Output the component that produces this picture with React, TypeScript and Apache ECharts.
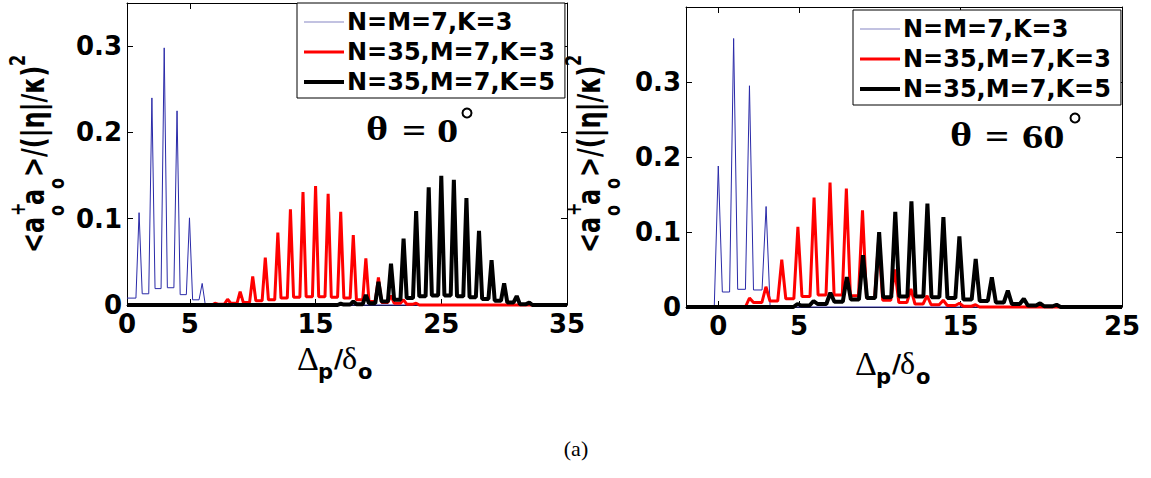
import React, { useEffect, useRef } from "react";
import * as echarts from "echarts";

const SERIES_NAMES = ["N=M=7,K=3", "N=35,M=7,K=3", "N=35,M=7,K=5"];
const xTicksLeft = [0, 5, 15, 25, 35];
const xTicksRight = [0, 5, 15, 25];
const yTicks = [0, 0.1, 0.2, 0.3];

// Panel θ = 0° : peak positions, peak heights, floor level before / between / after peaks
const blue0X = [0.96, 1.98, 2.96, 3.98, 4.97, 5.98];
const blue0Y = [0.107, 0.24, 0.298, 0.225, 0.101, 0.025];
const blue0Floor = [0.008, 0.013, 0.019, 0.02, 0.012, 0.006, 0];

const red0X = [7, 8, 9, 10, 11, 12, 13, 14, 15, 16, 17, 18, 19, 20, 21, 22, 23];
const red0Y = [0.002, 0.0066, 0.0155, 0.033, 0.055, 0.084, 0.111, 0.131, 0.138, 0.129, 0.108, 0.081, 0.054, 0.032, 0.011, 0.006, 0.002];
const red0Floor = [0, 0.001, 0.002, 0.003, 0.005, 0.006, 0.008, 0.009, 0.0095, 0.0095, 0.009, 0.008, 0.006, 0.004, 0.003, 0.002, 0.001, 0];

const black0X = [17, 18, 19, 20, 21, 22, 23, 24, 25, 26, 27, 28, 29, 30, 31, 32];
const black0Y = [0.0015, 0.004, 0.0116, 0.027, 0.048, 0.077, 0.109, 0.1365, 0.1497, 0.145, 0.124, 0.086, 0.052, 0.025, 0.0104, 0.0027];
const black0Floor = [0, 0.0005, 0.001, 0.002, 0.004, 0.006, 0.008, 0.01, 0.011, 0.011, 0.01, 0.009, 0.007, 0.005, 0.003, 0.001, 0];

// Panel θ = 60°
const blue60X = [0, 0.95, 1.93, 2.96];
const blue60Y = [0.188, 0.358, 0.295, 0.134];
const blue60Floor = [0, 0.02, 0.0236, 0.0227, 0];

const red60X = [1.93, 2.95, 3.93, 4.93, 5.93, 6.92, 7.93, 8.93, 9.93, 10.93, 11.93, 12.93, 13.93, 14.93, 15.93];
const red60Y = [0.012, 0.027, 0.063, 0.107, 0.146, 0.166, 0.158, 0.129, 0.09, 0.05, 0.024, 0.015, 0.009, 0.005, 0.003];
const red60Floor = [0, 0.006, 0.008, 0.011, 0.014, 0.016, 0.016, 0.015, 0.012, 0.009, 0.006, 0.004, 0.003, 0.002, 0.001, 0];

const black60X = [4.9, 5.9, 6.94, 7.96, 8.96, 9.96, 10.96, 11.96, 12.95, 13.94, 14.93, 15.94, 16.94, 17.93, 18.92, 19.93, 20.95];
const black60Y = [0.004, 0.008, 0.019, 0.04, 0.069, 0.1, 0.127, 0.141, 0.138, 0.12, 0.094, 0.064, 0.0396, 0.0218, 0.011, 0.005, 0.003];
const black60Floor = [0, 0.002, 0.004, 0.007, 0.01, 0.012, 0.013, 0.014, 0.014, 0.013, 0.012, 0.01, 0.008, 0.006, 0.004, 0.002, 0.001, 0];

const SANS = '"DejaVu Sans", sans-serif';
const SERIF = '"Liberation Serif", serif';
const COLORS = ["#2a2aa8", "#ff0000", "#000000"];
const LEGEND_COLORS = ["#8585c4", "#ff0000", "#000000"];
const WIDTHS = [1, 3, 4];
const FOOT = 0.25; // half-width of a spike's base, in axis units (drawing style)

// Each peak is drawn as a spike rising from the floor on its left to its height and back to the floor on its right.
function spikes(xs: number[], ys: number[], floors: number[], xmin: number, xmax: number) {
  const pts: number[][] = [[xmin, floors[0]]];
  xs.forEach((x, i) => {
    pts.push([x - FOOT, floors[i]], [x, ys[i]], [x + FOOT, floors[i + 1]]);
  });
  pts.push([xmax, floors[floors.length - 1]]);
  return pts;
}

function xAxesFor(gi: number, min: number, max: number, ticks: number[]) {
  const base = {
    type: "value",
    gridIndex: gi,
    min,
    max,
    splitLine: { show: false },
    axisLine: { show: true, onZero: false, lineStyle: { color: "#000", width: 1 } },
    axisTick: { show: true, inside: true, length: 6, customValues: ticks, lineStyle: { color: "#000" } },
  };
  return [
    {
      ...base,
      position: "bottom",
      axisLabel: {
        show: true, customValues: ticks, formatter: (v: number) => String(v),
        color: "#000", fontFamily: SANS, fontWeight: "bold", fontSize: 26, margin: 6,
      },
    },
    { ...base, position: "top", axisLabel: { show: false } },
  ];
}

function yAxesFor(gi: number, max: number) {
  const base = {
    type: "value",
    gridIndex: gi,
    min: 0,
    max,
    splitLine: { show: false },
    axisLine: { show: true, onZero: false, lineStyle: { color: "#000", width: 1 } },
    axisTick: { show: true, inside: true, length: 6, customValues: yTicks, lineStyle: { color: "#000" } },
  };
  return [
    {
      ...base,
      position: "left",
      axisLabel: {
        show: true, customValues: yTicks, formatter: (v: number) => String(v),
        color: "#000", fontFamily: SANS, fontWeight: "bold", fontSize: 26, margin: 5,
      },
    },
    { ...base, position: "right", axisLabel: { show: false } },
  ];
}

function lineSeries(idx: number, data: number[][], axisIdx: number) {
  return {
    type: "line",
    name: SERIES_NAMES[idx],
    data,
    xAxisIndex: axisIdx,
    yAxisIndex: axisIdx,
    showSymbol: false,
    symbol: "none",
    clip: false,
    silent: true,
    lineStyle: { color: COLORS[idx], width: WIDTHS[idx], join: "bevel" },
    itemStyle: { color: COLORS[idx] },
  };
}

function t(x: number, y: number, text: string, font: string, extra: any = {}) {
  return {
    type: "text", x, y, ...extra,
    style: { text, font, fill: "#000", align: extra.align || "left", verticalAlign: "middle" },
  };
}

function yName(x0: number) {
  const main = `bold 24px ${SANS}`;
  const small = `bold 16px ${SANS}`;
  return {
    type: "group",
    x: x0,
    y: 253,
    rotation: Math.PI / 2,
    scaleY: 1.3,
    children: [
      t(0, 0, "<a", main),
      t(37, -12, "+", small),
      t(37, 18, "o", small),
      t(48, 0, "a", main),
      t(64, 18, "o", small),
      t(76, 0, ">/(|η|/κ)", main),
      t(187, -12, "2", small),
    ],
  };
}

function xName(x0: number, y0: number) {
  return {
    type: "group",
    x: x0,
    y: y0,
    children: [
      t(0, 0, "Δ", `34px ${SERIF}`),
      t(21, 14, "p", `bold 21px ${SANS}`),
      t(37, 0, "/", `bold 25px ${SANS}`),
      t(45, 0, "δ", `32px ${SERIF}`),
      t(61, 14, "o", `bold 21px ${SANS}`),
    ],
  };
}

function legendFor(left: number, top: number) {
  return {
    show: true,
    orient: "vertical",
    left,
    top,
    data: SERIES_NAMES.map((name, i) => ({
      name,
      icon: `path://M0 0H40V${WIDTHS[i]}H0Z`,
      itemStyle: { color: LEGEND_COLORS[i] },
    })),
    selectedMode: false,
    backgroundColor: "#fff",
    borderColor: "#000",
    borderWidth: 1,
    padding: [6, 10, 3, 7],
    itemGap: 4,
    itemWidth: 40,
    itemHeight: 14,
    textStyle: { fontFamily: SANS, fontWeight: "bold", fontSize: 24, color: "#000", lineHeight: 26, padding: [0, 0, 0, -2] },
  };
}

const option = {
  animation: false,
  backgroundColor: "#fff",
  grid: [
    { left: 127, top: 3, width: 440, height: 302 },
    { left: 686, top: 7, width: 436, height: 300 },
  ],
  xAxis: [...xAxesFor(0, 0, 35, xTicksLeft), ...xAxesFor(1, -2, 25, xTicksRight)],
  yAxis: [...yAxesFor(0, 0.35), ...yAxesFor(1, 0.4)],
  legend: [legendFor(297, 3), legendFor(853, 10)],
  series: [
    lineSeries(0, spikes(blue0X, blue0Y, blue0Floor, 0, 35), 0),
    lineSeries(1, spikes(red0X, red0Y, red0Floor, 0, 35), 0),
    lineSeries(2, spikes(black0X, black0Y, black0Floor, 0, 35), 0),
    lineSeries(0, spikes(blue60X, blue60Y, blue60Floor, -2, 25), 2),
    lineSeries(1, spikes(red60X, red60Y, red60Floor, -2, 25), 2),
    lineSeries(2, spikes(black60X, black60Y, black60Floor, -2, 25), 2),
  ],
  graphic: [
    yName(33),
    yName(589),
    xName(297, 358),
    xName(855, 363),
    t(366, 129, "θ", `bold 34px ${SERIF}`, { scaleX: 1.25 }),
    t(402, 131, "=", `bold 34px ${SERIF}`, { scaleX: 1.25 }),
    t(437, 131, "0", `bold 34px ${SERIF}`, { scaleX: 1.25 }),
    { type: "circle", shape: { cx: 467, cy: 113, r: 4.5 }, style: { fill: "none", stroke: "#000", lineWidth: 2 } },
    t(950, 135, "θ", `bold 34px ${SERIF}`, { scaleX: 1.25 }),
    t(985, 137, "=", `bold 34px ${SERIF}`, { scaleX: 1.25 }),
    t(1022, 137, "60", `bold 34px ${SERIF}`, { scaleX: 1.25 }),
    { type: "circle", shape: { cx: 1075, cy: 118, r: 4.5 }, style: { fill: "none", stroke: "#000", lineWidth: 2 } },
    t(576, 448, "(a)", `22px ${SERIF}`, { align: "center" }),
  ],
};

export default function App() {
  const ref = useRef<HTMLDivElement>(null);
  useEffect(() => {
    const chart = echarts.init(ref.current!, null, { renderer: "svg" });
    chart.setOption(option as any);
    return () => chart.dispose();
  }, []);
  return (
    <div
      ref={ref}
      style={{ position: "absolute", left: 0, top: 0, width: 1151, height: 478, background: "#fff" }}
    />
  );
}
